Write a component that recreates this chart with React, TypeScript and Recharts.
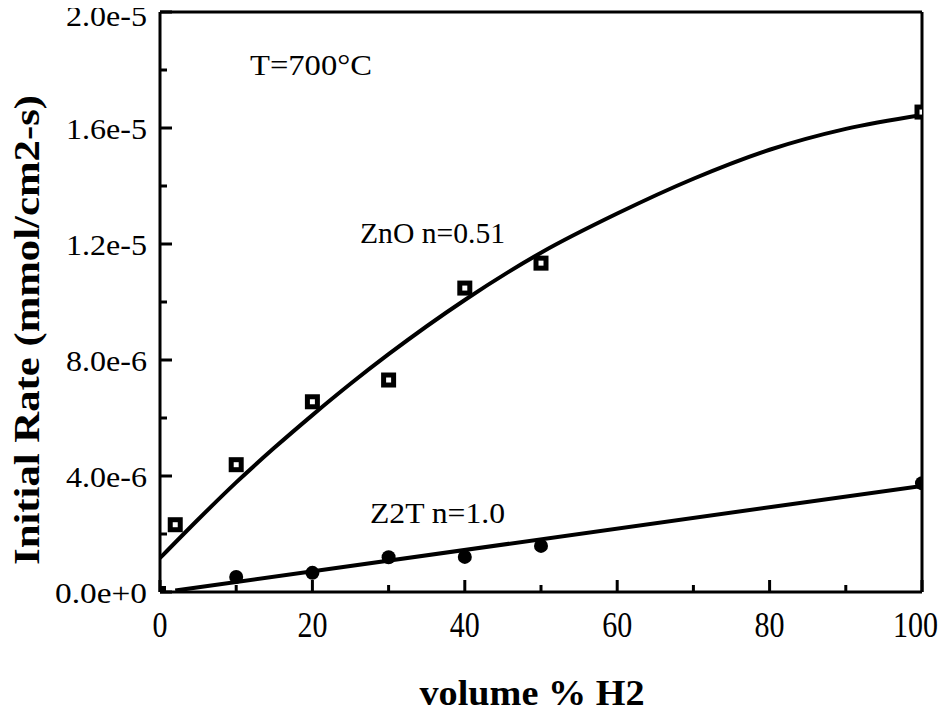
import React from "react";
import {
  ComposedChart,
  Line,
  Scatter,
  XAxis,
  YAxis,
  ReferenceLine,
} from "recharts";

// ---- data ----
const znoVolume = [0, 2, 10, 20, 30, 40, 50, 100];
const znoRate = [0, 2.32e-6, 4.39e-6, 6.56e-6, 7.31e-6, 1.048e-5, 1.134e-5, 1.655e-5];

const z2tVolume = [10, 20, 30, 40, 50, 100];
const z2tRate = [5.2e-7, 6.6e-7, 1.2e-6, 1.21e-6, 1.59e-6, 3.75e-6];

const znoFitVolume = [0, 5, 10, 15, 20, 25, 30, 40, 50, 60, 70, 80, 90, 100];
const znoFitRate = [
  1.17e-6, 2.5e-6, 3.78e-6, 4.97e-6, 6.1e-6, 7.18e-6, 8.2e-6, 1.007e-5,
  1.17e-5, 1.305e-5, 1.425e-5, 1.525e-5, 1.597e-5, 1.645e-5,
];

const z2tFitVolume = [2, 100];
const z2tFitRate = [0.05e-6, 3.66e-6];

const xTicks = [0, 10, 20, 30, 40, 50, 60, 70, 80, 90, 100];
const xTickLabels = ["0", "", "20", "", "40", "", "60", "", "80", "", "100"];
const yTicks = [0, 2e-6, 4e-6, 6e-6, 8e-6, 1e-5, 1.2e-5, 1.4e-5, 1.6e-5, 1.8e-5, 2e-5];
const yTickLabels = ["0.0e+0", "", "4.0e-6", "", "8.0e-6", "", "1.2e-5", "", "1.6e-5", "", "2.0e-5"];

const xTitle = "volume % H2";
const yTitle = "Initial Rate (mmol/cm2-s)";
const tempNote = "T=700°C";
const znoNote = "ZnO n=0.51";
const z2tNote = "Z2T n=1.0";

const toPts = (xs: number[], ys: number[]) => xs.map((x, i) => ({ x, y: ys[i] }));
const znoPts = toPts(znoVolume, znoRate);
const z2tPts = toPts(z2tVolume, z2tRate);
const znoFit = toPts(znoFitVolume, znoFitRate);
const z2tFit = toPts(z2tFitVolume, z2tFitRate);

const FONT = "Liberation Serif, Times New Roman, serif";
const W = 949;
const H = 715;

const XTick = (props: any) => {
  const { x, y, index } = props;
  const label = xTickLabels[index];
  const major = label !== "";
  const isLast = index === xTicks.length - 1;
  return (
    <g>
      <line x1={x} x2={x} y1={y} y2={y - (major ? 12 : 7)} stroke="#000" strokeWidth={3} />
      {major && (
        <text
          x={isLast ? x + 16 : x}
          y={y + 45}
          textAnchor={isLast ? "end" : "middle"}
          style={{ fontFamily: FONT, fontSize: 35 }}
          fill="#000"
          textLength={label.length * 15}
          lengthAdjust="spacingAndGlyphs"
        >
          {label}
        </text>
      )}
    </g>
  );
};

const YTick = (props: any) => {
  const { x, y, index } = props;
  const label = yTickLabels[index];
  const major = label !== "";
  const isTop = index === yTicks.length - 1;
  return (
    <g>
      <line x1={x} x2={x + (major ? 12 : 7)} y1={y} y2={y} stroke="#000" strokeWidth={3} />
      {major && (
        <text
          x={x - 13}
          y={y + (isTop ? 14 : 11)}
          textAnchor="end"
          style={{ fontFamily: FONT, fontSize: 29 }}
          fill="#000"
          textLength={label.includes("+") ? 92 : 81}
          lengthAdjust="spacingAndGlyphs"
        >
          {label}
        </text>
      )}
    </g>
  );
};

const SquareMark = (props: any) => {
  const { cx, cy, payload } = props;
  if (payload && payload.y === 0) {
    return <rect x={cx - 6} y={cy - 6} width={12} height={12} fill="#000" />;
  }
  return (
    <g>
      <rect x={cx - 7.5} y={cy - 7.5} width={15} height={15} fill="#000" />
      <rect x={cx - 2.5} y={cy - 2.5} width={5} height={5} fill="#fff" />
    </g>
  );
};

const CircleMark = (props: any) => {
  const { cx, cy } = props;
  return <circle cx={cx} cy={cy} r={7} fill="#000" />;
};

export default function App() {
  return (
    <div style={{ width: W, height: H, margin: -8, background: "#fff" }}>
      <ComposedChart
        width={W}
        height={H}
        margin={{ top: 12, right: 27, left: 0, bottom: 0 }}
        style={{ fontFamily: FONT }}
      >
        <XAxis
          type="number"
          dataKey="x"
          domain={[0, 100]}
          ticks={xTicks}
          interval={0}
          height={123}
          tickSize={0}
          tickMargin={0}
          tickLine={false}
          axisLine={{ stroke: "#000", strokeWidth: 3 }}
          tick={<XTick />}
          allowDataOverflow
        />
        <YAxis
          type="number"
          dataKey="y"
          domain={[0, 2e-5]}
          ticks={yTicks}
          interval={0}
          width={160}
          tickSize={0}
          tickMargin={0}
          tickLine={false}
          axisLine={{ stroke: "#000", strokeWidth: 3 }}
          tick={<YTick />}
          allowDataOverflow
        />
        <ReferenceLine y={2e-5} stroke="#000" strokeWidth={3} />
        <ReferenceLine x={100} stroke="#000" strokeWidth={3} />
        <Line
          data={znoFit}
          dataKey="y"
          type="monotone"
          stroke="#000"
          strokeWidth={4}
          dot={false}
          activeDot={false}
          isAnimationActive={false}
        />
        <Line
          data={z2tFit}
          dataKey="y"
          type="linear"
          stroke="#000"
          strokeWidth={4}
          dot={false}
          activeDot={false}
          isAnimationActive={false}
        />
        <Scatter data={znoPts} dataKey="y" shape={<SquareMark />} isAnimationActive={false} />
        <Scatter data={z2tPts} dataKey="y" shape={<CircleMark />} isAnimationActive={false} />
        <text
          x={250}
          y={75}
          style={{ fontFamily: FONT, fontSize: 30 }}
          fill="#000"
          textLength={122}
          lengthAdjust="spacingAndGlyphs"
        >
          {tempNote}
        </text>
        <text
          x={360}
          y={243}
          style={{ fontFamily: FONT, fontSize: 30 }}
          fill="#000"
          textLength={145}
          lengthAdjust="spacingAndGlyphs"
        >
          {znoNote}
        </text>
        <text
          x={370}
          y={523}
          style={{ fontFamily: FONT, fontSize: 30 }}
          fill="#000"
          textLength={135}
          lengthAdjust="spacingAndGlyphs"
        >
          {z2tNote}
        </text>
        <text
          x={532}
          y={705}
          textAnchor="middle"
          style={{ fontFamily: FONT, fontSize: 35, fontWeight: "bold" }}
          fill="#000"
          textLength={225}
          lengthAdjust="spacingAndGlyphs"
        >
          {xTitle}
        </text>
        <text
          x={39}
          y={330}
          transform="rotate(-90, 39, 330)"
          textAnchor="middle"
          style={{ fontFamily: FONT, fontSize: 35, fontWeight: "bold" }}
          fill="#000"
          textLength={470}
          lengthAdjust="spacingAndGlyphs"
        >
          {yTitle}
        </text>
      </ComposedChart>
    </div>
  );
}
